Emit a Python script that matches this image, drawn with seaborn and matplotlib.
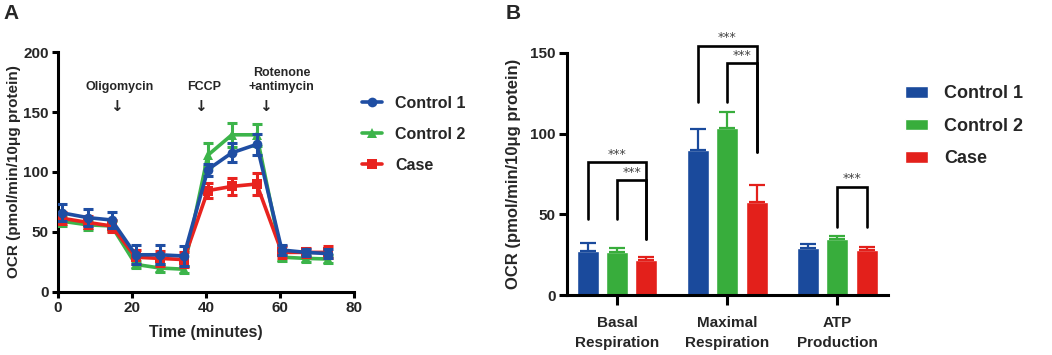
import numpy as np
import pandas as pd
import matplotlib
matplotlib.use("Agg")
import matplotlib.pyplot as plt
import seaborn as sns

# ---- data: panel A (Seahorse OCR time course) ----
time_min = [1, 8, 14.5, 21, 27.5, 34, 40.5, 47, 53.7, 60.5, 67, 73]
ctrl1_ocr = [66, 62, 60, 31, 31, 30, 102, 116, 123, 35, 33, 32]
ctrl1_err = [7, 7, 7, 8, 8, 8, 5, 8, 9, 4, 3, 4]
ctrl2_ocr = [59, 56, 55, 23, 20, 19, 114, 131, 131, 29, 28, 27.5]
ctrl2_err = [4, 4, 4, 3, 3, 3, 10, 10, 9, 3, 3, 3]
case_ocr = [61.5, 58, 55, 29, 28, 27, 84.5, 88, 90, 33, 33, 33]
case_err = [5, 5, 5, 6, 6, 6, 6, 7, 9, 5, 4, 5]

injections = ["Oligomycin", "FCCP", "Rotenone\n+antimycin"]
inject_time = [15.7, 38.6, 56]

# ---- data: panel B (respiration parameters) ----
params = ["Basal\nRespiration", "Maximal\nRespiration", "ATP\nProduction"]
groups = ["Control 1", "Control 2", "Case"]
ctrl1_bar = [27.5, 90, 29.4]
ctrl1_bar_err = [4.5, 12.8, 2.3]
ctrl2_bar = [26.5, 103.4, 35]
ctrl2_bar_err = [2.9, 10.2, 1.6]
case_bar = [21.7, 57.5, 28]
case_bar_err = [1.7, 10.8, 2]

# significance brackets: (param index, group a, group b, top, left leg end, right leg end)
brackets = [
    (0, 0, 2, 82.3, 47.2, 34.5),
    (0, 1, 2, 71.2, 47.2, 34.5),
    (1, 0, 2, 154.5, 119.6, 88.3),
    (1, 1, 2, 143.8, 119.6, 88.3),
    (2, 1, 2, 67.2, 42.4, 42.0),
]

colors_line = {"Control 1": "#1f4ea3", "Control 2": "#3cb44a", "Case": "#e8231f"}
colors_bar = {"Control 1": "#1a4a9c", "Control 2": "#38ad3c", "Case": "#e3201b"}
markers = {"Control 1": "o", "Control 2": "^", "Case": "s"}

sns.set_style("ticks")
plt.rcParams["font.family"] = ["Liberation Sans", "DejaVu Sans"]
plt.rcParams["font.weight"] = "bold"

fig = plt.figure(figsize=(10.52, 3.55), dpi=100)
axA = fig.add_axes([0.0551, 0.1775, 0.2814, 0.676])
axB = fig.add_axes([0.539, 0.169, 0.305, 0.682])

# ==========================================
# Panel A
# ==========================================
series = {
    "Control 1": (ctrl1_ocr, ctrl1_err),
    "Control 2": (ctrl2_ocr, ctrl2_err),
    "Case": (case_ocr, case_err),
}
z = {"Control 2": 3, "Case": 4, "Control 1": 5}
for g in ["Control 2", "Case", "Control 1"]:
    m, e = series[g]
    df = pd.DataFrame({"time": time_min, "ocr": m})
    sns.lineplot(data=df, x="time", y="ocr", ax=axA, color=colors_line[g],
                 marker=markers[g], markersize=7, markeredgewidth=0,
                 linewidth=2.6, label=g, zorder=z[g])
    axA.errorbar(time_min, m, yerr=e, fmt="none", ecolor=colors_line[g],
                 elinewidth=2.2, capsize=3.5, capthick=2.2, zorder=z[g])

axA.set_xlim(0, 80)
axA.set_ylim(0, 200)
xt = [0, 20, 40, 60, 80]
yt = [0, 50, 100, 150, 200]
axA.set_xticks(xt, [str(v) for v in xt])
axA.set_yticks(yt, [str(v) for v in yt])
axA.set_xlabel("Time (minutes)", fontsize=11.5, fontweight="bold", labelpad=7)
axA.set_ylabel("OCR (pmol/min/10μg protein)", fontsize=11, fontweight="bold", labelpad=2)
for t, lab in zip(inject_time, injections):
    axA.text(t + (1 if "\n" not in lab else 4.5), 166, lab, ha="center", va="bottom",
             fontsize=9, fontweight="bold", linespacing=1.25)
    axA.text(t, 148, "↓", ha="center", va="bottom", fontsize=11,
             family="DejaVu Sans")

h, l = axA.get_legend_handles_labels()
order = [l.index(g) for g in groups]
axA.legend([h[i] for i in order], [l[i] for i in order], loc="upper left",
           bbox_to_anchor=(0.33, 0.77), bbox_transform=fig.transFigure,
           frameon=False, handlelength=1.3, labelspacing=1.0,
           prop={"size": 11.5, "weight": "bold"})

# ==========================================
# Panel B
# ==========================================
rows = []
for i, p in enumerate(params):
    rows.append({"param": p, "group": "Control 1", "ocr": ctrl1_bar[i]})
    rows.append({"param": p, "group": "Control 2", "ocr": ctrl2_bar[i]})
    rows.append({"param": p, "group": "Case", "ocr": case_bar[i]})
dfB = pd.DataFrame(rows)
sns.barplot(data=dfB, x="param", y="ocr", hue="group", hue_order=groups,
            palette=colors_bar, errorbar=None, width=0.8, gap=0.25,
            saturation=1, ax=axB)

errs = [ctrl1_bar_err, ctrl2_bar_err, case_bar_err]
vals = [ctrl1_bar, ctrl2_bar, case_bar]
bar_conts = list(axB.containers)
centers = []
for gi, cont in enumerate(bar_conts):
    xs = [b.get_x() + b.get_width() / 2 for b in cont]
    centers.append(xs)
    axB.errorbar(xs, vals[gi], yerr=[np.zeros(3), errs[gi]], fmt="none",
                 ecolor=colors_bar[groups[gi]], elinewidth=1.6, capsize=5.5,
                 capthick=1.6, zorder=1)

for pi, ga, gb, top, la, lb in brackets:
    xa = centers[ga][pi]
    xb = centers[gb][pi]
    axB.plot([xa, xa, xb, xb], [la, top, top, lb], color="black", lw=1.9,
             clip_on=False, solid_joinstyle="miter")
    axB.text((xa + xb) / 2, top + 0.8, "***", ha="center", va="bottom",
             fontsize=9, color="#444444", fontweight="normal",
             family="DejaVu Sans", clip_on=False)

axB.set_xlim(-0.455, 2.46)
axB.set_ylim(0, 150)
bt = [0, 50, 100, 150]
axB.set_yticks(bt, [str(v) for v in bt])
axB.set_xticks(range(len(params)), params)
axB.set_xlabel("")
axB.set_ylabel("OCR (pmol/min/10μg protein)", fontsize=12, fontweight="bold", labelpad=7)
axB.legend(loc="upper left", bbox_to_anchor=(0.845, 0.805), bbox_transform=fig.transFigure,
           frameon=False, handlelength=1.25, handleheight=0.6, labelspacing=0.85,
           handletextpad=0.9, prop={"size": 13, "weight": "bold"})

for ax in (axA, axB):
    sns.despine(ax=ax)
    for s in ("left", "bottom"):
        ax.spines[s].set_linewidth(2.2)
        ax.spines[s].set_color("black")
    ax.tick_params(width=2.2, color="black", labelsize=11)
axA.tick_params(length=4.5, pad=2)
axB.tick_params(axis="y", length=6, pad=2)
axB.tick_params(axis="x", length=7, pad=8)

fig.text(0.003, 0.99, "A", fontsize=15, fontweight="bold", va="top")
fig.text(0.481, 0.99, "B", fontsize=15, fontweight="bold", va="top")

# tick labels bold, set after a draw so the final tick objects get it
fig.canvas.draw()
for ax in (axA, axB):
    for lab in ax.get_xticklabels() + ax.get_yticklabels():
        lab.set_fontweight("bold")
        lab.set_fontfamily(["Liberation Sans", "DejaVu Sans"])
for lab in axB.get_xticklabels():
    lab.set_linespacing(1.55)

fig.savefig("out.png", dpi=100)
